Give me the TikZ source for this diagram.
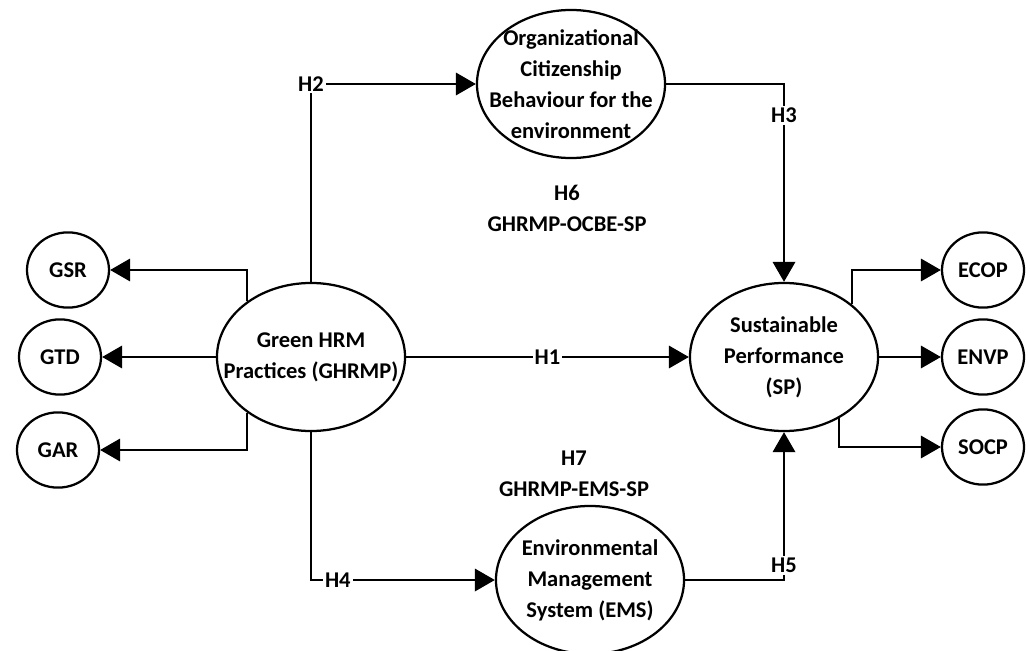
\documentclass[tikz,border=0pt]{standalone}
\usepackage{fontspec}
\setmainfont{Carlito}
\usetikzlibrary{positioning, shapes.geometric, arrows.meta}
\tikzset{
	every node/.append style={
		font={\fontsize{16}{22}\selectfont\bfseries},
	},
	construct/.append style={
		draw,
		ellipse,
		line width=1.6pt,
		inner sep=0pt,
		minimum width=4.7cm,
		minimum height=3.7cm
	},
	indicator/.append style={
		draw,
		ellipse,
		line width=1.6pt,
		inner sep=0pt,
		minimum width=2.05cm,
		minimum height=1.88cm
	},
	intext/.append style={
		align = center,
		inner sep=0pt,
	},
	hyp/.append style={
		fill=white,
		inner sep=1.5pt,
	},
	link/.append style={
		line width=1.6pt,
		-{Triangle[length=0.5cm, width=0.56cm]}
	}
}

\begin{document}
\begin{tikzpicture}[x=0.025cm, y=-0.025cm]
	\useasboundingbox (0,0) rectangle (1030,650);
	% constructs
	\node(ocbe)[construct, label={[intext]center:Organizational\\Citizenship\\Behaviour for the\\environment}] at (571,84) {};
	\node(ghrmp)[construct, label={[intext]center:Green HRM\\Practices (GHRMP)}] at (311,357) {};
	\node(sp)[construct, label={[intext]center:Sustainable\\Performance\\(SP)}] at (784,357) {};
	\node(ems)[construct, label={[intext]center:Environmental\\Management\\System (EMS)}] at (590,580) {};
	% dimensions
	\node(gsr)[indicator] at (68,270) {GSR};
	\node(gtd)[indicator] at (60,357) {GTD};
	\node(gar)[indicator] at (58,450) {GAR};
	\node(ecop)[indicator] at (983,270) {ECOP};
	\node(envp)[indicator] at (983,357) {ENVP};
	\node(socp)[indicator] at (983,447) {SOCP};
	% mediation notes
	\node(h6)[intext] at (567,208) {H6\\GHRMP-OCBE-SP};
	\node(h7)[intext] at (574,474) {H7\\GHRMP-EMS-SP};

	\draw[link] (ghrmp) -- (sp) node[hyp,midway]{H1};
	\draw[link] (ghrmp.north) |- (ocbe.west) node[hyp,pos=0.5]{H2};
	\draw[link] (ocbe.east) -| (sp.north) node[hyp,pos=0.58]{H3};
	\draw[link] (ghrmp.south) |- (ems.west) node[hyp,pos=0.573]{H4};
	\draw[link] (ems.east) -| (sp.south) node[hyp,pos=0.55]{H5};

	\draw[link] (ghrmp.139.5) |- (gsr);
	\draw[link] (ghrmp) -- (gtd);
	\draw[link] (ghrmp.-139.5) |- (gar);
	\draw[link] (sp.38.8) |- (ecop);
	\draw[link] (sp) -- (envp);
	\draw[link] (sp.-48.5) |- (socp);
\end{tikzpicture}
\end{document}
